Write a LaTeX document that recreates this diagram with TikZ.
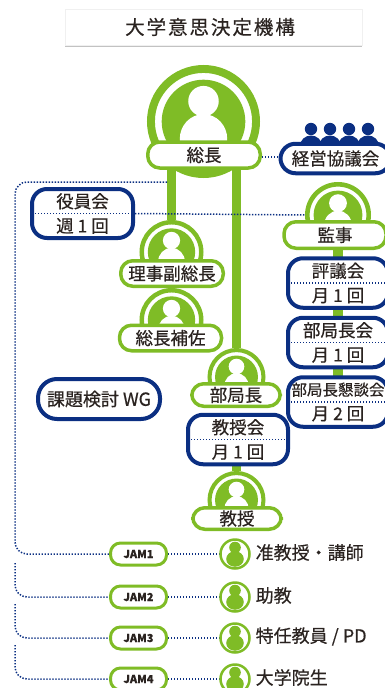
\documentclass[tikz,border=0pt]{standalone}
\usepackage{fontspec}
\setmainfont{Noto Sans CJK JP}[RawFeature={embolden=0.5}]
\usetikzlibrary{shadows,backgrounds}
\definecolor{jamgreen}{HTML}{7FBC26}
\definecolor{jamblue}{HTML}{0B2F82}
\definecolor{jamtext}{HTML}{2A2320}
\tikzstyle{pill} = [rectangle, draw=jamgreen, fill=white, line width=3.5pt, rounded corners=12pt, inner sep=0pt, text=jamtext, font=\fontsize{17.5}{20}\selectfont]
\tikzstyle{meeting} = [rectangle, draw=jamblue, fill=white, line width=4pt, rounded corners=15pt, inner sep=0pt, text=jamtext, align=center, font=\fontsize{17.5}{24.5}\selectfont]
\tikzstyle{ring} = [circle, draw=jamgreen, fill=white, inner sep=0pt]
\tikzstyle{jam} = [pill, line width=3pt, minimum width=56pt, minimum height=22pt, rounded corners=10pt, font=\fontsize{11}{13}\selectfont\bfseries]
\tikzstyle{bar} = [draw=jamgreen, line width=9.5pt]
\tikzstyle{dots} = [draw=jamblue, line width=1.5pt, dash pattern=on 1.4pt off 1.6pt]
\tikzstyle{rank} = [text=jamtext, anchor=west, inner sep=0pt, font=\fontsize{18}{20}\selectfont]
% name, x, y, radius
\newcommand{\badge}[4]{
	\node [ring, line width=#4*0.14pt, minimum size=#4*1.86pt] (#1) at (#2,#3) {};
	\fill [jamgreen] (#1) circle (#4*0.74);
	\begin{scope}
		\clip (#1) circle (#4*0.74);
		\fill [white] (#1) ++(0,-#4*0.36) circle (#4*0.27);
		\fill [white] (#1) ++(0,#4*0.31) ellipse (#4*0.42 and #4*0.44);
	\end{scope}
}
% name, y, jam label, rank label
\newcommand{\jamrow}[4]{
	\node [jam] (#1) at (138.5,#2) {#3};
	\node [ring, line width=2.5pt, minimum size=29pt] (#1p) at (235,#2) {};
	\fill [jamgreen] (#1p) ++(0,-6.5) circle (5.8);
	\fill [jamgreen] (#1p) ++(0,5) ellipse (8.8 and 7.8);
	\node [rank, yshift=1.5pt] (#1t) at (255.5,#2) {#4};
}
\begin{document}
\begin{tikzpicture}[x=1pt,y=-1pt]
	\useasboundingbox (0,0) rectangle (385,688);

	\node [draw=black!6, fill=white, minimum width=297pt, minimum height=36pt, drop shadow={shadow xshift=0pt, shadow yshift=-2pt, fill=black!40, opacity=.6}, text=jamtext, font=\addfontfeature{LetterSpace=10}\fontsize{19.5}{22}\selectfont] (title) at (213.5,27) {\hspace*{-7pt}大学意思決定機構};

	\badge{sochoB}{203.5}{121.5}{56.5}
	\badge{fukuB}{171.5}{252}{32}
	\badge{hosaB}{171.5}{320}{32}
	\badge{bukyokuB}{236.5}{377}{29}
	\badge{kyojuB}{236.5}{500}{29}
	\badge{kanjiB}{338}{215}{33}

	\node [pill, minimum width=112.5pt, minimum height=26pt] (socho) at (204,155) {総長};
	\node [pill, minimum width=102.5pt, minimum height=25.5pt] (fuku) at (172,273.5) {理事副総長};
	\node [pill, minimum width=102pt, minimum height=25.5pt] (hosa) at (170.5,338) {総長補佐};
	\node [pill, minimum width=88.5pt, minimum height=22.5pt] (bukyoku) at (236,395) {部局長};
	\node [pill, minimum width=88.5pt, minimum height=21.5pt] (kyoju) at (237,518.5) {教授};
	\node [pill, minimum width=102pt, minimum height=26.5pt] (kanji) at (335,235) {監事};

	\foreach \x in {311,330,349,368} {
		\fill [jamblue] (\x,129) circle (6.2);
		\fill [jamblue] (\x,146) ellipse (11 and 10.5);
	}
	\node [meeting, minimum width=110pt, minimum height=29.5pt] (keiei) at (335.5,158.5) {経営協議会};
	\node [meeting, minimum width=101pt, minimum height=49pt] (yakuin) at (82.5,213.5) {役員会\\週 1 回};
	\node [meeting, minimum width=122pt, minimum height=40pt, rounded corners=19pt, font=\fontsize{18}{20}\selectfont] (wg) at (99,399) {課題検討 WG};
	\node [meeting, minimum width=100pt, minimum height=49.5pt] (hyogi) at (338,283) {評議会\\月 1 回};
	\node [meeting, minimum width=100pt, minimum height=49.5pt] (buchokai) at (338,342.5) {部局長会\\月 1 回};
	\node [meeting, minimum width=100pt, minimum height=49.5pt, font=\fontsize{15.5}{24.5}\selectfont] (kondan) at (338,402) {部局長懇談会\\\fontsize{17.5}{24.5}\selectfont 月 2 回};
	\node [meeting, minimum width=100pt, minimum height=49.5pt] (kyojukai) at (238,439.5) {教授会\\月 1 回};

	\jamrow{jama}{554}{JAM1}{准教授・講師}
	\jamrow{jamb}{597}{JAM2}{助教}
	\jamrow{jamc}{638}{JAM3}{特任教員 / PD}
	\jamrow{jamd}{679}{JAM4}{大学院生}

	\coordinate (top) at (167,182);
	\coordinate (link) at (262,157);
	\coordinate (sidea) at (15,563);
	\coordinate (sideb) at (15,604);
	\coordinate (sidec) at (15,645);

	\begin{scope}[on background layer]
		\path [bar] (fukuB |- socho.south) -- (fukuB);
		\path [bar] (bukyokuB |- socho.south) -- (bukyokuB);
		\path [bar] (kanji -| kanjiB) -- (kondan -| kanjiB);
		\path [bar] (kyojukai -| kyojuB) -- (kyojuB);
		\path [dots] (link) -- (link -| keiei.west);
		\path [dots] (yakuin.east) -- (kanjiB.west);
		\path [dots, rounded corners=12pt] (top) -- (15,182) |- (jama.west);
		\path [dots, rounded corners=12pt] (sidea) |- (jamb.west);
		\path [dots, rounded corners=12pt] (sideb) |- (jamc.west);
		\path [dots, rounded corners=12pt] (sidec) |- (jamd.west);
		\foreach \n in {jama,jamb,jamc,jamd} {
			\path [dots] (\n.east) -- (\n p.west);
		}
	\end{scope}

	% dotted rules inside the meeting boxes
	\foreach \n in {yakuin,hyogi,buchokai,kondan,kyojukai} {
		\path [dots] ([xshift=5pt]\n.west) -- ([xshift=-5pt]\n.east);
	}
\end{tikzpicture}
\end{document}
